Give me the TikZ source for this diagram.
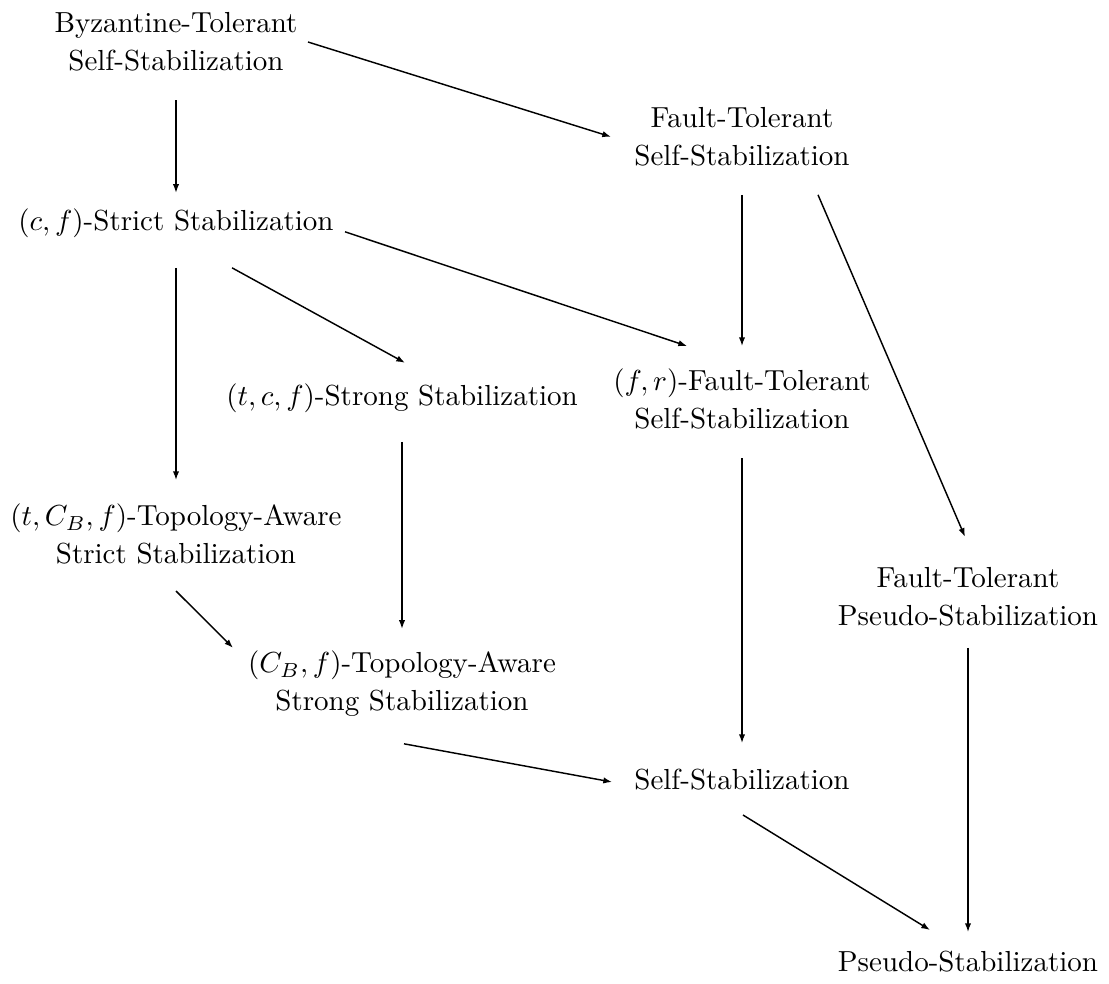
\documentclass[tikz,border=0pt]{standalone}
\usepackage{amsmath,amssymb}
\usepackage{tikz}
\usetikzlibrary{arrows.meta,calc}

\begin{document}
\begin{tikzpicture}[x=0.3448pt,y=-0.3448pt,
    stab/.style={align=center,inner sep=0pt,font=\fontsize{10}{13}\selectfont},
    impl/.style={-{Latex[length=3pt,width=2.2pt]},line width=0.5pt}]
    \useasboundingbox (0,0) rectangle (1109,984);

    % notions of stabilization
    \node[stab] (byz)  at (176,42)    {Byzantine-Tolerant\\Self-Stabilization};
    \node[stab] (ftss) at (742,136.8) {Fault-Tolerant\\Self-Stabilization};
    \node[stab] (cf)   at (176,222.8) {$(c,f)$-Strict Stabilization};
    \node[stab] (tcf)  at (402,397.8) {$(t,c,f)$-Strong Stabilization};
    \node[stab] (fr)   at (742,399)   {$(f,r)$-Fault-Tolerant\\Self-Stabilization};
    \node[stab] (tcbf) at (176,534)   {$(t,C_B,f)$-Topology-Aware\\Strict Stabilization};
    \node[stab] (ftps) at (968,596.8) {Fault-Tolerant\\Pseudo-Stabilization};
    \node[stab] (cbf)  at (402,683.8) {$(C_B,f)$-Topology-Aware\\Strong Stabilization};
    \node[stab] (ss)   at (742,780)   {Self-Stabilization};
    \node[stab] (ps)   at (968,962)   {Pseudo-Stabilization};

    % implications
    \draw[impl] ($(byz)+(0,58)$)    -- ($(cf)+(0,-30)$);
    \draw[impl] ($(byz)+(132,0)$)   -- ($(ftss)+(-131,0)$);
    \draw[impl] ($(cf)+(0,45)$)     -- ($(tcbf)+(0,-54)$);
    \draw[impl] ($(cf)+(56,45)$)    -- ($(tcf)+(3,-35)$);
    \draw[impl] ($(cf)+(169,9)$)    -- ($(fr)+(-55,-53)$);
    \draw[impl] ($(ftss)+(0,58)$)   -- ($(fr)+(0,-53)$);
    \draw[impl] ($(ftss)+(76,58)$)  -- ($(ftps)+(-3,-60)$);
    \draw[impl] ($(tcf)+(0,44)$)    -- ($(cbf)+(0,-55)$);
    \draw[impl] ($(tcbf)+(0,57)$)   -- ($(cbf)+(-169,-36)$);
    \draw[impl] ($(fr)+(0,59)$)     -- ($(ss)+(0,-37)$);
    \draw[impl] ($(cbf)+(2,60)$)    -- ($(ss)+(-130,2)$);
    \draw[impl] ($(ss)+(1,35)$)     -- ($(ps)+(-38,-32)$);
    \draw[impl] ($(ftps)+(0,51)$)   -- ($(ps)+(0,-30)$);
\end{tikzpicture}
\end{document}
